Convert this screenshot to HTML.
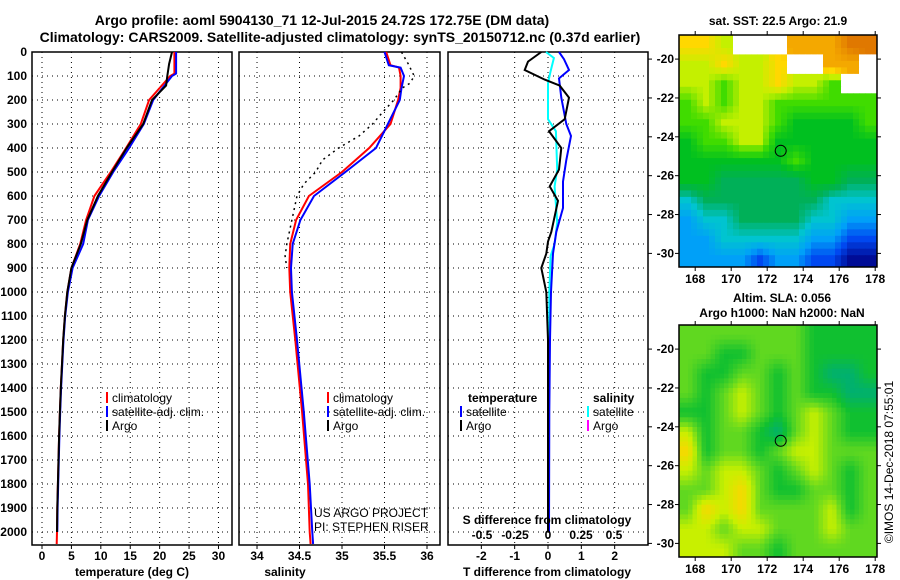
<!DOCTYPE html>
<html><head><meta charset="utf-8"><style>
html,body{margin:0;padding:0;background:#fff}
svg{display:block;font-family:"Liberation Sans",Arial,sans-serif;font-weight:bold}
</style></head><body>
<svg id="c" width="900" height="580" xmlns="http://www.w3.org/2000/svg">
<text x="322" y="25" font-size="14" text-anchor="middle">Argo profile: aoml 5904130_71 12-Jul-2015 24.72S 172.75E (DM data)</text>
<text x="340" y="42" font-size="14" text-anchor="middle">Climatology: CARS2009. Satellite-adjusted climatology: synTS_20150712.nc (0.37d earlier)</text>
<text x="778" y="25" font-size="12" text-anchor="middle">sat. SST: 22.5 Argo: 21.9</text>
<text x="782" y="302" font-size="12" text-anchor="middle">Altim. SLA: 0.056</text>
<text x="782" y="317" font-size="12" text-anchor="middle">Argo h1000: NaN h2000: NaN</text>
<text transform="translate(893,462) rotate(-90)" font-size="12" font-weight="normal" text-anchor="middle">©IMOS 14-Dec-2018 07:55:01</text>
<g id="g"></g>
</svg>
<script>
// ---- data ----
const depthA=[0,50,100,140,200,300,400,500,600,700,800,900,1000,1100,1200,1300,1400,1500,1600,1700,1800,1900,2000];
const tempArgo=[22.1,21.6,21.3,21.1,18.7,17.2,14.4,11.9,9.5,7.7,6.6,5.0,4.3,3.9,3.6,3.4,3.2,3.05,2.9,2.8,2.7,2.6,2.55];
const depthC=[0,90,100,200,300,400,500,600,700,800,900,1000,1100,1200,1300,1400,1500,1600,1700,1800,1900,2000,2050];
const tempClim=[22.5,22.5,21.8,18.2,16.8,14.3,11.7,8.9,7.5,6.5,5.0,4.3,3.9,3.6,3.4,3.2,3.05,2.9,2.8,2.7,2.6,2.55,2.5];
const tempSat=[22.8,22.8,22.1,18.9,17.3,14.8,12.1,9.7,7.8,7.0,5.2,4.4,3.95,3.65,3.45,3.25,3.1,2.95,2.85,2.75,2.65,2.6,2.55];
const depthS=[0,55,65,100,150,200,300,400,500,600,700,800,900,1000,1200,1500,1800,2000,2050];
const salClim=[35.52,35.57,35.67,35.69,35.69,35.66,35.57,35.32,35.0,34.61,34.46,34.39,34.38,34.39,34.45,34.53,34.6,34.62,34.63];
const salSat=[35.5,35.55,35.69,35.73,35.70,35.68,35.54,35.40,35.04,34.67,34.51,34.42,34.40,34.41,34.47,34.55,34.62,34.65,34.66];
const depthSA=[0,50,100,130,150,200,250,300,350,400,450,500,550,600,700,800,850,900];
const salArgo=[35.7,35.78,35.85,35.8,35.71,35.61,35.48,35.36,35.2,34.96,34.77,34.69,34.55,34.47,34.41,34.35,34.33,34.35];
const depthD=[0,40,75,115,140,190,280,330,400,490,560,620,750,790,840,900,1000,1200,1500,2000];
const tDiffArgo=[-0.2,-0.6,-0.7,-0.1,0.35,0.63,0.5,0.03,0.4,0.33,0.05,0.3,0.1,0,-0.05,-0.2,-0.05,0,0,0];
const depthD2=[0,30,75,110,190,300,350,450,540,650,750,840,1000,1200,1500,2000];
const tDiffSat=[0.33,0.48,0.63,0.33,0.4,0.55,0.69,0.55,0.45,0.45,0.25,0.15,0.09,0.06,0.04,0.03];
const depthD3=[0,25,80,130,280,330,490,560,710,800,850,1000,1500,2000];
const sDiffSat=[-0.015,0.045,0.02,0,0,0.06,0.07,0.05,0.07,0.05,0.02,0.01,0.005,0];
const depthTicks=[0,100,200,300,400,500,600,700,800,900,1000,1100,1200,1300,1400,1500,1600,1700,1800,1900,2000];
const tTicks=[0,5,10,15,20,25,30];
const sTicks=[34,34.5,35,35.5,36];
const tdTicks=[-2,-1,0,1,2];
const sdTicks=[-0.5,-0.25,0,0.25,0.5];
const sdTickLabels=["-0.5","-0.25","0","0.25","0.5"];
const lonTicks=[168,170,172,174,176,178];
const latTicks=[-20,-22,-24,-26,-28,-30];
const sstGrid=[
[8,8,7,-1,-1,-1,9,9,9,10,10],
[7,7,8,7,7,8,-1,-1,9,9,-1],
[7,7,6,7,7,8,7,7,6,-1,-1],
[6,7,6,7,7,6,6,6,6,6,6],
[6,6,7,7,7,6,5,5,5,5,6],
[5,6,6,7,7,5,5,5,5,5,5],
[5,5,5,5,5,5,6,5,5,5,5],
[5,5,4,4,4,4,4,5,5,4,4],
[3,4,4,4,4,4,4,4,3,3,3],
[2,3,3,4,4,4,4,3,3,2,2],
[2,2,3,3,3,3,3,2,2,1,1],
[2,2,2,2,1,2,2,1,1,0,0]];
const slaGrid=[
[6,6,6,6,6,6,6,5,5,5,5],
[6,6,5,5,6,6,6,5,5,5,5],
[6,5,5,6,6,5,6,5,4,4,5],
[6,5,6,7,6,5,6,5,5,4,4],
[5,5,6,7,6,5,6,7,6,5,5],
[7,5,6,6,5,4,6,7,6,5,5],
[8,5,6,6,5,6,7,7,6,6,6],
[7,6,7,7,6,5,6,7,6,5,6],
[6,6,7,8,6,5,5,6,6,5,6],
[6,8,7,8,6,6,6,6,7,5,6],
[7,7,6,7,7,6,6,6,7,6,6],
[7,7,7,6,6,5,6,6,6,6,6]];
const floatLon=172.75, floatLat=-24.72;

// ---- drawing ----
const NS="http://www.w3.org/2000/svg";
const G=document.getElementById('g');
function mk(tag,at,parent){const e=document.createElementNS(NS,tag);for(const k in at)e.setAttribute(k,at[k]);(parent||G).appendChild(e);return e;}
const plotTop=52,plotBot=545;
const yD=d=>plotTop+d*0.24;
function lin(d0,d1,r0,r1){return v=>r0+(v-d0)*(r1-r0)/(d1-d0);}
const panels=[
 {x0:32,x1:232,sc:lin(-1.7,32.3,32,232),ticks:tTicks,name:'temperature'},
 {x0:239,x1:440,sc:lin(33.788,36.153,239,440),ticks:sTicks,name:'salinity'},
 {x0:448,x1:648,sc:lin(-3,3,448,648),ticks:tdTicks,name:'difference'}];
panels.forEach((p,i)=>{
 const pg=mk('g',{});
 
 
 depthTicks.forEach(d=>{const l=mk('line',{x1:p.x0,x2:p.x1,y1:yD(d),y2:yD(d),stroke:'#000','stroke-width':1,'stroke-dasharray':'1,4'},pg);
  });
 p.ticks.forEach(t=>{const l=mk('line',{x1:p.sc(t),x2:p.sc(t),y1:plotTop,y2:plotBot,stroke:'#000','stroke-width':1,'stroke-dasharray':'1,4'},pg);
  
  const tk=mk('line',{x1:p.sc(t),x2:p.sc(t),y1:plotBot,y2:plotBot+4,stroke:'#000'},pg);
  const tx=mk('text',{x:p.sc(t),y:560,'font-size':12,'text-anchor':'middle'},pg);tx.textContent=t;
  });
 const r=mk('rect',{x:p.x0,y:plotTop,width:p.x1-p.x0,height:plotBot-plotTop,fill:'none',stroke:'#000','stroke-width':1.5},pg);
 
});
depthTicks.forEach(d=>{const t=mk('text',{x:27,y:yD(d)+4,'font-size':12,'text-anchor':'end'});t.textContent=d;
 });
function xl(x,s,n){const t=mk('text',{x:x,y:576,'font-size':12,'text-anchor':'middle'});t.textContent=s;}
xl(132,'temperature (deg C)','temperature-axis-title');xl(285,'salinity','salinity-axis-title');xl(547,'T difference from climatology','t-diff-axis-title');
function line(ds,vs,sc,col,w,dash,n){const pts=ds.map((d,i)=>sc(vs[i]).toFixed(1)+','+yD(d).toFixed(1)).join(' ');
 const e=mk('polyline',{points:pts,fill:'none',stroke:col,'stroke-width':w});if(dash)e.setAttribute('stroke-dasharray',dash);
 }
const P=panels;
line(depthC,tempClim,P[0].sc,'#f00',2,null,'temp-climatology-line');
line(depthC.slice(0,-1),tempSat.slice(0,-1),P[0].sc,'#00f',2,null,'temp-satellite-line');
line(depthA,tempArgo,P[0].sc,'#000',2,null,'temp-argo-line');
line(depthS,salClim,P[1].sc,'#f00',2,null,'sal-climatology-line');
line(depthS,salSat,P[1].sc,'#00f',2,null,'sal-satellite-line');
line(depthSA,salArgo,P[1].sc,'#000',1.5,'2,4','sal-argo-line');
const sdSc=v=>P[2].sc(0)+v*132;
line(depthD3,sDiffSat,sdSc,'#0ff',2,null,'s-diff-satellite-line');
line(depthD2,tDiffSat,P[2].sc,'#00f',2,null,'t-diff-satellite-line');
line(depthD,tDiffArgo,P[2].sc,'#000',2,null,'t-diff-argo-line');
function leg(x,y,col,s,n){const g=mk('g',{});
 mk('rect',{x:x,y:y-10,width:2,height:11,fill:col},g);const t=mk('text',{x:x+6,y:y,'font-size':12,'font-weight':'normal'},g);t.textContent=s;}
leg(106,402,'#f00','climatology','legend-climatology');leg(106,416,'#00f','satellite-adj. clim.','legend-satellite');leg(106,430,'#000','Argo','legend-argo');
leg(327,402,'#f00','climatology','legend2-climatology');leg(327,416,'#00f','satellite-adj. clim.','legend2-satellite');leg(327,430,'#000','Argo','legend2-argo');
function tx(x,y,s,n,a,fw){const t=mk('text',{x:x,y:y,'font-size':12,'text-anchor':a||'start','font-weight':fw||'bold'});t.textContent=s;}
tx(468,402,'temperature','legend-temp-header');leg(460,416,'#00f','satellite','legend-t-satellite');leg(460,430,'#000','Argo','legend-t-argo');
tx(593,402,'salinity','legend-sal-header');leg(587,416,'#0ff','satellite','legend-s-satellite');leg(587,430,'#f0f','Argo','legend-s-argo');
tx(314,517,'US ARGO PROJECT','project-label',null,'normal');tx(314,531,'PI: STEPHEN RISER','pi-label',null,'normal');
tx(547,524,'S difference from climatology','s-diff-axis-title','middle');
sdTicks.forEach((v,i)=>tx(sdSc(v),539,sdTickLabels[i],'s-diff-tick-label','middle'));
// maps: continuous colour ramp, bilinear interpolation of grid values
const ramp=[[0,12,150],[0,72,240],[0,160,248],[0,196,208],[0,176,88],[0,192,32],[64,220,0],[196,240,0],[255,216,0],[244,168,0],[224,120,0]];
const slaRamp=[[0,12,150],[0,72,240],[0,160,248],[0,196,208],[0,176,112],[16,192,48],[96,216,32],[200,240,0],[248,216,0],[244,168,0],[224,120,0]];
function rc(r,v){v=Math.max(0,Math.min(10,v));const i=Math.min(9,Math.floor(v)),f=v-i;
 return 'rgb('+[0,1,2].map(k=>Math.round(r[i][k]+(r[i+1][k]-r[i][k])*f)).join(',')+')';}
function sample(grid,u,v){
 const R=grid.length,C=grid[0].length;
 const nr=Math.min(R-1,Math.max(0,Math.floor(v))),nc=Math.min(C-1,Math.max(0,Math.floor(u)));
 if(grid[nr][nc]<0)return -1;
 const uu=Math.max(0,Math.min(C-1,u-0.5)),vv=Math.max(0,Math.min(R-1,v-0.5));
 const c0=Math.floor(uu),r0=Math.floor(vv),c1=Math.min(C-1,c0+1),r1=Math.min(R-1,r0+1),fu=uu-c0,fv=vv-r0;
 const g=(r,c)=>grid[r][c]<0?grid[nr][nc]:grid[r][c];
 return (g(r0,c0)*(1-fu)+g(r0,c1)*fu)*(1-fv)+(g(r1,c0)*(1-fu)+g(r1,c1)*fu)*fv;
}
function map(y0,grid,pal,n,sub){
 const x0=679,x1=877,y1=y0+232;
 const lx=lin(167.1,178.1,x0,x1), ly=lin(-18.76,-30.7,y0,y1);
 const g=mk('g',{});
 const C=grid[0].length,R=grid.length;
 for(let r=0;r<R*sub;r++)for(let c=0;c<C*sub;c++){
  const la=-18.76-r/sub, lb=Math.max(-30.7,-18.76-(r+1)/sub); if(la<=-30.7)continue;
  const loa=167.1+c/sub, lob=Math.min(178.1,167.1+(c+1)/sub);
  const v=sample(grid,(c+0.5)/sub,(r+0.5)/sub);
  const xa=lx(loa),xb=lx(lob),ya=ly(la),yb=ly(lb);
  const e=mk('rect',{x:xa.toFixed(1),y:ya.toFixed(1),width:(xb-xa+0.4).toFixed(1),height:(yb-ya+0.4).toFixed(1),fill:v<0?'#fff':rc(pal,v)},g);
  }
 const fr=mk('rect',{x:x0,y:y0,width:x1-x0,height:y1-y0,fill:'none',stroke:'#000','stroke-width':1.5},g);
 
 lonTicks.forEach(v=>{mk('line',{x1:lx(v),x2:lx(v),y1:y1,y2:y1+4,stroke:'#000'},g);mk('line',{x1:lx(v),x2:lx(v),y1:y0,y2:y0-4,stroke:'#000'},g);
  const t=mk('text',{x:lx(v),y:y1+16,'font-size':12,'text-anchor':'middle'},g);t.textContent=v;});
 latTicks.forEach(v=>{mk('line',{x1:x0-4,x2:x0,y1:ly(v),y2:ly(v),stroke:'#000'},g);mk('line',{x1:x1,x2:x1+4,y1:ly(v),y2:ly(v),stroke:'#000'},g);
  mk('line',{x1:648,x2:652,y1:ly(v),y2:ly(v),stroke:'#000'},g);
  const t=mk('text',{x:674,y:ly(v)+4,'font-size':12,'text-anchor':'end'},g);t.textContent=v;});
 const ci=mk('circle',{cx:lx(floatLon),cy:ly(floatLat),r:5.5,fill:'none',stroke:'#000','stroke-width':1},g);
 
}
map(35,sstGrid,ramp,'sst-map',3);
map(325,slaGrid,slaRamp,'sla-map',4);
</script>
</body></html>
